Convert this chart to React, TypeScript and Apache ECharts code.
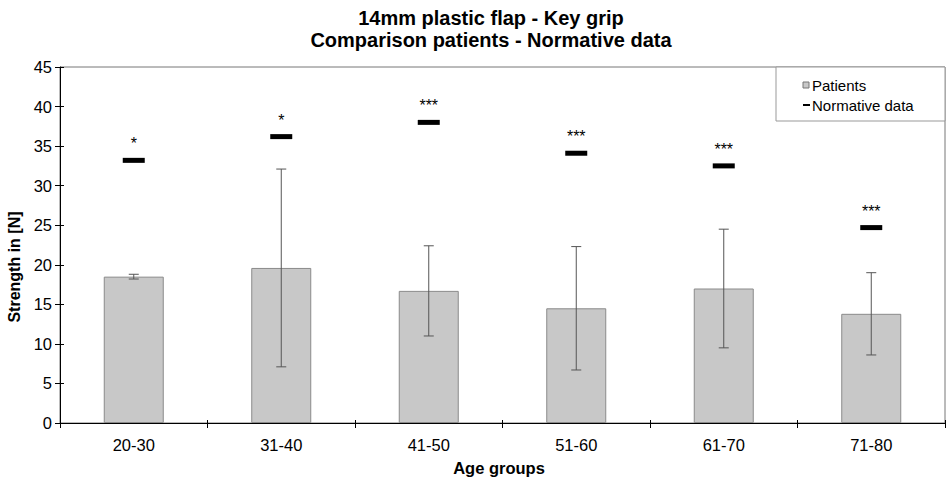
import React, { useEffect, useRef } from "react";
import * as echarts from "echarts";

const categories = ["20-30", "31-40", "41-50", "51-60", "61-70", "71-80"];
const patientsMean = [18.5, 19.6, 16.7, 14.5, 17.0, 13.8];
const patientsSD = [0.3, 12.5, 5.7, 7.8, 7.5, 5.2];
const normative = [33.2, 36.2, 38.0, 34.1, 32.5, 24.7];
const significance = ["*", "*", "***", "***", "***", "***"];
const yTicks = { min: 0, max: 45, interval: 5 };

const FONT = "Liberation Sans";

export default function App() {
  const ref = useRef<HTMLDivElement>(null);

  useEffect(() => {
    document.body.style.margin = "0";
    const chart = echarts.init(ref.current!, null, { renderer: "svg" });
    const errData = categories.map((_, i) => [
      i,
      patientsMean[i] - patientsSD[i],
      patientsMean[i] + patientsSD[i],
    ]);
    const yBase = {
      type: "value",
      min: yTicks.min,
      max: yTicks.max,
      interval: yTicks.interval,
      splitLine: { show: false },
    };
    chart.setOption({
      animation: false,
      backgroundColor: "#fff",
      textStyle: { fontFamily: FONT },
      grid: {
        left: 60,
        right: 1,
        top: 67,
        bottom: 58,
        show: true,
        borderColor: "#777",
        borderWidth: 1,
        backgroundColor: "transparent",
      },
      xAxis: [
        {
          type: "category",
          data: categories,
          axisLine: { lineStyle: { color: "#000", width: 1 } },
          axisTick: { show: true, alignWithLabel: false, length: 5, lineStyle: { color: "#000" } },
          axisLabel: { color: "#000", fontSize: 16.5, margin: 13, fontFamily: FONT },
          splitLine: { show: false },
        },
        {
          type: "category",
          data: categories,
          position: "bottom",
          axisLine: { show: false },
          axisTick: { show: true, inside: true, alignWithLabel: false, length: 3, lineStyle: { color: "#000" } },
          axisLabel: { show: false },
          splitLine: { show: false },
        },
      ],
      yAxis: [
        {
          ...yBase,
          axisLine: { show: true, lineStyle: { color: "#000", width: 1 } },
          axisTick: { show: true, length: 5, lineStyle: { color: "#000" } },
          axisLabel: { color: "#000", fontSize: 16.5, margin: 8, fontFamily: FONT },
        },
        {
          ...yBase,
          position: "left",
          axisLine: { show: false },
          axisTick: { show: true, inside: true, length: 4, lineStyle: { color: "#000" } },
          axisLabel: { show: false },
        },
      ],
      series: [
        {
          name: "Patients",
          type: "bar",
          data: patientsMean,
          barWidth: 60,
          itemStyle: { color: "#c8c8c8", borderColor: "#8a8a8a", borderWidth: 1 },
          z: 2,
        },
        {
          name: "SD",
          type: "custom",
          data: errData,
          encode: { x: 0, y: [1, 2] },
          z: 5,
          renderItem: (params: any, api: any) => {
            const lo = api.coord([api.value(0), api.value(1)]);
            const hi = api.coord([api.value(0), api.value(2)]);
            const cx = lo[0];
            const hw = 5;
            const st = { stroke: "#555", lineWidth: 1 };
            return {
              type: "group",
              children: [
                { type: "line", shape: { x1: cx, y1: lo[1], x2: cx, y2: hi[1] }, style: st },
                { type: "line", shape: { x1: cx - hw, y1: lo[1], x2: cx + hw, y2: lo[1] }, style: st },
                { type: "line", shape: { x1: cx - hw, y1: hi[1], x2: cx + hw, y2: hi[1] }, style: st },
              ],
            };
          },
        },
        {
          name: "Normative data",
          type: "scatter",
          data: normative,
          symbol: "rect",
          symbolSize: [22, 5],
          itemStyle: { color: "#000", opacity: 1 },
          z: 6,
          label: {
            show: true,
            position: "top",
            distance: 6,
            color: "#000",
            fontSize: 16,
            fontFamily: FONT,
            formatter: (p: any) => significance[p.dataIndex],
          },
        },
      ],
      graphic: [
        {
          type: "text",
          x: 491,
          y: 18,
          style: {
            text: "14mm plastic flap - Key grip",
            font: `bold 20px "${FONT}"`,
            fill: "#000",
            textAlign: "center",
            textVerticalAlign: "middle",
          },
        },
        {
          type: "text",
          x: 491,
          y: 40,
          style: {
            text: "Comparison patients - Normative data",
            font: `bold 20px "${FONT}"`,
            fill: "#000",
            textAlign: "center",
            textVerticalAlign: "middle",
          },
        },
        {
          type: "text",
          x: 499,
          y: 468,
          style: {
            text: "Age groups",
            font: `bold 16.5px "${FONT}"`,
            fill: "#000",
            textAlign: "center",
            textVerticalAlign: "middle",
          },
        },
        {
          type: "text",
          x: 14,
          y: 267,
          rotation: Math.PI / 2,
          style: {
            text: "Strength in [N]",
            font: `bold 16px "${FONT}"`,
            fill: "#000",
            textAlign: "center",
            textVerticalAlign: "middle",
          },
        },
        {
          type: "rect",
          shape: { x: 776, y: 67, width: 169, height: 54 },
          style: { fill: "#fff", stroke: "#999", lineWidth: 1 },
          z: 10,
        },
        {
          type: "rect",
          shape: { x: 803, y: 82, width: 6, height: 6 },
          style: { fill: "#c8c8c8", stroke: "#777", lineWidth: 1 },
          z: 11,
        },
        {
          type: "rect",
          shape: { x: 803, y: 104, width: 7, height: 2 },
          style: { fill: "#000" },
          z: 11,
        },
        {
          type: "text",
          x: 812,
          y: 85,
          z: 11,
          style: {
            text: "Patients",
            font: `15px "${FONT}"`,
            fill: "#000",
            textVerticalAlign: "middle",
          },
        },
        {
          type: "text",
          x: 812,
          y: 105,
          z: 11,
          style: {
            text: "Normative data",
            font: `15px "${FONT}"`,
            fill: "#000",
            textVerticalAlign: "middle",
          },
        },
      ],
    });
    return () => chart.dispose();
  }, []);

  return <div ref={ref} style={{ width: 946, height: 481 }} />;
}
